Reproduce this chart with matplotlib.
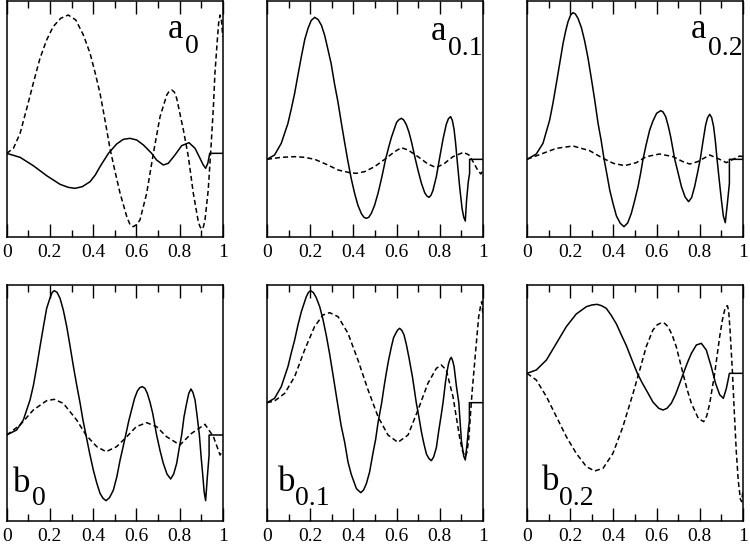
import matplotlib
matplotlib.use("Agg")
import matplotlib.pyplot as plt
from matplotlib import font_manager
from matplotlib.ticker import MultipleLocator

_names = {f.name for f in font_manager.fontManager.ttflist}
SERIF = 'DejaVu Serif'
for _c in ['Liberation Serif', 'Times New Roman', 'Nimbus Roman', 'Nimbus Roman No9 L',
           'TeX Gyre Termes', 'FreeSerif', 'STIXGeneral']:
    if _c in _names:
        SERIF = _c
        break
plt.rcParams['font.family'] = [SERIF, 'DejaVu Serif']

# ---------------- data ----------------
A0_SOLID_X = [0, 0.062, 0.123, 0.185, 0.247, 0.285, 0.316, 0.350, 0.386, 0.410, 0.432, 0.471, 0.509, 0.540, 0.571, 0.602, 0.633, 0.671, 0.694, 0.725, 0.748, 0.779, 0.810, 0.844, 0.872, 0.895, 0.910, 0.921, 0.931, 0.940, 1.0]
A0_SOLID_Y = [0, -0.12, -0.37, -0.67, -0.93, -1.02, -1.05, -1.00, -0.85, -0.65, -0.40, 0, 0.28, 0.42, 0.45, 0.40, 0.25, 0, -0.20, -0.35, -0.30, -0.05, 0.23, 0.32, 0.15, -0.15, -0.35, -0.45, -0.30, 0, 0]
A0_DASH_X = [0, 0.031, 0.062, 0.093, 0.123, 0.154, 0.185, 0.215, 0.250, 0.285, 0.320, 0.355, 0.386, 0.410, 0.432, 0.455, 0.478, 0.500, 0.525, 0.556, 0.571, 0.586, 0.601, 0.617, 0.648, 0.679, 0.710, 0.741, 0.752, 0.764, 0.776, 0.787, 0.818, 0.841, 0.864, 0.887, 0.895, 0.903, 0.911, 0.918, 0.933, 0.946, 0.957, 0.964, 0.974, 0.981, 0.988, 0.995, 1.0]
A0_DASH_Y = [0, 0.15, 0.60, 1.35, 2.10, 2.85, 3.40, 3.80, 4.05, 4.15, 4.00, 3.55, 3.00, 2.40, 1.80, 1.00, 0.15, -0.50, -1.20, -1.90, -2.14, -2.20, -2.14, -2.00, -1.20, 0.00, 1.10, 1.75, 1.86, 1.90, 1.84, 1.65, 0.70, -0.10, -1.20, -2.05, -2.20, -2.28, -2.20, -2.00, -1.10, 0.20, 1.40, 2.40, 3.30, 3.90, 4.15, 3.95, 3.50]

A01_SOLID_X = [0, 0.035, 0.066, 0.097, 0.112, 0.128, 0.143, 0.159, 0.175, 0.190, 0.205, 0.221, 0.237, 0.252, 0.267, 0.282, 0.297, 0.313, 0.328, 0.344, 0.358, 0.373, 0.390, 0.406, 0.421, 0.437, 0.449, 0.460, 0.471, 0.483, 0.498, 0.514, 0.531, 0.549, 0.562, 0.576, 0.600, 0.611, 0.622, 0.633, 0.645, 0.657, 0.668, 0.687, 0.700, 0.715, 0.730, 0.740, 0.750, 0.759, 0.768, 0.784, 0.798, 0.815, 0.830, 0.840, 0.850, 0.858, 0.866, 0.873, 0.880, 0.892, 0.903, 0.911, 0.918, 0.924, 0.932, 0.938, 0.938, 1.0]
A01_SOLID_Y = [0, 0.13, 0.48, 1.08, 1.50, 1.98, 2.52, 3.08, 3.60, 3.93, 4.17, 4.26, 4.19, 4.02, 3.72, 3.30, 2.87, 2.25, 1.74, 1.10, 0.56, 0, -0.58, -1.03, -1.38, -1.63, -1.74, -1.77, -1.74, -1.62, -1.38, -1.02, -0.55, 0, 0.33, 0.66, 1.11, 1.19, 1.23, 1.18, 1.04, 0.82, 0.55, 0, -0.35, -0.72, -1.00, -1.10, -1.14, -1.08, -0.94, -0.52, 0, 0.61, 1.05, 1.22, 1.28, 1.17, 0.90, 0.50, 0, -0.83, -1.47, -1.74, -1.85, -1.22, -0.67, -0.42, 0, 0]
A01_DASH_X = [0, 0.066, 0.128, 0.174, 0.221, 0.282, 0.329, 0.383, 0.414, 0.452, 0.498, 0.545, 0.591, 0.622, 0.653, 0.699, 0.745, 0.784, 0.822, 0.861, 0.910, 0.935, 0.955, 0.975, 0.990, 1.0]
A01_DASH_Y = [0, 0.06, 0.08, 0.06, 0, -0.17, -0.32, -0.40, -0.42, -0.37, -0.22, 0, 0.23, 0.35, 0.28, 0.08, -0.14, -0.25, -0.12, 0.08, 0.21, 0.13, -0.08, -0.32, -0.44, -0.32]

A02_SOLID_X = [0, 0.043, 0.074, 0.105, 0.120, 0.136, 0.152, 0.167, 0.179, 0.190, 0.202, 0.213, 0.224, 0.236, 0.252, 0.267, 0.283, 0.298, 0.313, 0.329, 0.343, 0.357, 0.370, 0.383, 0.398, 0.414, 0.432, 0.449, 0.466, 0.483, 0.498, 0.514, 0.526, 0.537, 0.552, 0.568, 0.583, 0.600, 0.619, 0.630, 0.642, 0.654, 0.665, 0.684, 0.700, 0.715, 0.732, 0.748, 0.762, 0.776, 0.789, 0.802, 0.815, 0.827, 0.836, 0.846, 0.855, 0.864, 0.872, 0.880, 0.890, 0.900, 0.909, 0.918, 0.928, 0.937, 0.937, 1.0]
A02_SOLID_Y = [0, 0.16, 0.48, 1.18, 1.68, 2.28, 2.90, 3.48, 3.85, 4.13, 4.33, 4.40, 4.36, 4.23, 3.95, 3.55, 3.02, 2.42, 1.80, 1.08, 0.58, 0, -0.45, -0.92, -1.32, -1.70, -1.92, -2.02, -1.91, -1.62, -1.25, -0.82, -0.42, 0, 0.45, 0.88, 1.15, 1.38, 1.46, 1.42, 1.28, 1.00, 0.68, 0, -0.42, -0.82, -1.13, -1.27, -1.15, -0.82, -0.42, 0, 0.55, 1.03, 1.25, 1.35, 1.25, 0.98, 0.55, 0, -0.62, -1.22, -1.70, -1.90, -1.30, -0.72, 0, 0]
A02_DASH_X = [0, 0.074, 0.136, 0.213, 0.290, 0.352, 0.400, 0.452, 0.506, 0.552, 0.614, 0.676, 0.722, 0.753, 0.790, 0.846, 0.892, 0.923, 0.954, 0.985, 1.0]
A02_DASH_Y = [0, 0.18, 0.33, 0.40, 0.26, 0.03, -0.12, -0.19, -0.10, 0.08, 0.16, 0.08, -0.07, -0.14, -0.07, 0.13, 0, -0.10, 0, 0.10, 0.08]

B0_SOLID_X = [0, 0.046, 0.077, 0.108, 0.124, 0.139, 0.155, 0.170, 0.185, 0.200, 0.210, 0.220, 0.233, 0.247, 0.262, 0.278, 0.293, 0.309, 0.324, 0.340, 0.353, 0.367, 0.384, 0.401, 0.416, 0.432, 0.446, 0.460, 0.476, 0.494, 0.510, 0.525, 0.538, 0.551, 0.565, 0.580, 0.592, 0.605, 0.616, 0.628, 0.640, 0.651, 0.664, 0.676, 0.694, 0.710, 0.725, 0.742, 0.759, 0.773, 0.787, 0.799, 0.810, 0.821, 0.833, 0.843, 0.853, 0.862, 0.872, 0.882, 0.892, 0.900, 0.907, 0.914, 0.921, 0.929, 0.937, 0.937, 1.0]
B0_SOLID_Y = [0, 0.15, 0.45, 1.05, 1.50, 2.05, 2.68, 3.25, 3.80, 4.10, 4.27, 4.33, 4.28, 4.10, 3.75, 3.25, 2.68, 2.05, 1.50, 0.95, 0.45, 0, -0.55, -1.05, -1.42, -1.75, -1.90, -1.97, -1.88, -1.65, -1.25, -0.75, -0.38, 0, 0.42, 0.80, 1.10, 1.32, 1.42, 1.45, 1.40, 1.25, 0.97, 0.65, 0, -0.47, -0.85, -1.17, -1.32, -1.17, -0.85, -0.38, 0, 0.55, 0.95, 1.25, 1.38, 1.28, 1.05, 0.55, 0, -0.65, -1.15, -1.70, -1.97, -1.25, -0.60, 0, 0]
B0_DASH_X = [0, 0.062, 0.123, 0.185, 0.220, 0.262, 0.324, 0.367, 0.417, 0.460, 0.509, 0.556, 0.600, 0.648, 0.694, 0.740, 0.802, 0.856, 0.918, 0.957, 0.988, 1.0]
B0_DASH_Y = [0, 0.30, 0.75, 1.03, 1.07, 0.95, 0.45, 0, -0.35, -0.50, -0.35, -0.05, 0.25, 0.37, 0.25, -0.05, -0.30, 0.05, 0.32, -0.05, -0.60, -0.45]

B01_SOLID_X = [0, 0.035, 0.066, 0.097, 0.112, 0.128, 0.143, 0.159, 0.182, 0.192, 0.202, 0.215, 0.228, 0.244, 0.259, 0.275, 0.290, 0.306, 0.326, 0.343, 0.360, 0.375, 0.390, 0.414, 0.434, 0.447, 0.460, 0.475, 0.491, 0.503, 0.514, 0.531, 0.542, 0.552, 0.563, 0.576, 0.586, 0.596, 0.605, 0.614, 0.624, 0.634, 0.645, 0.657, 0.674, 0.691, 0.703, 0.715, 0.726, 0.738, 0.750, 0.761, 0.772, 0.784, 0.795, 0.807, 0.815, 0.826, 0.833, 0.841, 0.847, 0.853, 0.859, 0.866, 0.877, 0.888, 0.900, 0.911, 0.918, 0.926, 0.932, 0.937, 0.937, 1.0]
B01_SOLID_Y = [0, 0.13, 0.48, 1.08, 1.48, 1.88, 2.32, 2.73, 3.18, 3.31, 3.36, 3.30, 3.15, 2.88, 2.50, 2.00, 1.46, 0.82, 0, -0.68, -1.20, -1.78, -2.15, -2.58, -2.70, -2.62, -2.43, -2.08, -1.50, -1.10, -0.60, 0, 0.48, 0.88, 1.28, 1.68, 1.95, 2.08, 2.18, 2.23, 2.17, 2.04, 1.75, 1.36, 0.75, 0, -0.42, -0.88, -1.22, -1.54, -1.68, -1.74, -1.62, -1.35, -0.85, -0.35, 0, 0.60, 0.92, 1.18, 1.30, 1.36, 1.27, 1.09, 0.49, 0, -1.14, -1.61, -1.72, -1.25, -0.82, -0.55, 0, 0]
B01_DASH_X = [0, 0.035, 0.082, 0.128, 0.174, 0.220, 0.259, 0.290, 0.329, 0.375, 0.421, 0.468, 0.514, 0.560, 0.606, 0.653, 0.699, 0.745, 0.784, 0.807, 0.830, 0.861, 0.892, 0.905, 0.918, 0.926, 0.934, 0.949, 0.965, 0.980, 0.991, 0.995, 1.0]
B01_DASH_Y = [0, 0.05, 0.28, 0.78, 1.58, 2.28, 2.63, 2.70, 2.58, 2.08, 1.28, 0.38, -0.42, -0.97, -1.19, -0.97, -0.22, 0.58, 1.03, 1.13, 0.98, 0.18, -1.05, -1.45, -1.62, -1.48, -1.08, 0.28, 1.48, 2.58, 2.98, 3.03, 2.58]

B02_SOLID_X = [0, 0.043, 0.090, 0.136, 0.182, 0.228, 0.275, 0.300, 0.324, 0.345, 0.367, 0.390, 0.414, 0.437, 0.460, 0.486, 0.511, 0.532, 0.552, 0.583, 0.610, 0.630, 0.648, 0.668, 0.688, 0.707, 0.724, 0.742, 0.761, 0.784, 0.807, 0.830, 0.853, 0.861, 0.873, 0.892, 0.909, 0.923, 0.931, 0.937, 1.0]
B02_SOLID_Y = [0, 0.10, 0.40, 0.90, 1.40, 1.78, 2.00, 2.05, 2.07, 2.03, 1.95, 1.74, 1.48, 1.15, 0.83, 0.40, 0, -0.27, -0.50, -0.86, -1.05, -1.10, -1.05, -0.90, -0.63, -0.30, 0, 0.31, 0.60, 0.85, 0.90, 0.70, 0.20, 0, -0.30, -0.64, -0.75, -0.45, -0.20, 0, 0]
B02_DASH_X = [0, 0.043, 0.090, 0.136, 0.182, 0.228, 0.275, 0.313, 0.352, 0.398, 0.444, 0.491, 0.522, 0.552, 0.583, 0.602, 0.622, 0.637, 0.653, 0.672, 0.691, 0.722, 0.742, 0.761, 0.793, 0.818, 0.832, 0.846, 0.869, 0.892, 0.904, 0.915, 0.922, 0.928, 0.934, 0.940, 0.951, 0.960, 0.969, 0.978, 0.988, 0.994, 1.0]
B02_DASH_Y = [0, -0.20, -0.70, -1.30, -1.90, -2.40, -2.80, -2.93, -2.85, -2.40, -1.60, -0.60, 0.10, 0.80, 1.30, 1.45, 1.52, 1.50, 1.40, 1.15, 0.80, 0, -0.50, -0.90, -1.35, -1.45, -1.28, -0.90, 0, 1.10, 1.58, 1.90, 2.00, 2.03, 1.85, 1.30, 0.05, -1.20, -2.35, -3.22, -3.78, -3.85, -3.50]

LABEL_MAIN = ["a", "a", "a", "b", "b", "b"]
LABEL_SUB = ["0", "0.1", "0.2", "0", "0.1", "0.2"]
X_TICKS = [0, 0.2, 0.4, 0.6, 0.8, 1.0]
X_TICK_LABELS = ["0", "0.2", "0.4", "0.6", "0.8", "1"]

# ---------------- layout ----------------
W, H = 750, 545
fig = plt.figure(figsize=(W / 100, H / 100), dpi=100)

col_left = [6.7, 267, 527]
row_top = [1, 285]
pw, ph = 216, 236

panels = [
    (A0_SOLID_X, A0_SOLID_Y, A0_DASH_X, A0_DASH_Y, (-2.51, 4.57)),
    (A01_SOLID_X, A01_SOLID_Y, A01_DASH_X, A01_DASH_Y, (-2.33, 4.75)),
    (A02_SOLID_X, A02_SOLID_Y, A02_DASH_X, A02_DASH_Y, (-2.33, 4.75)),
    (B0_SOLID_X, B0_SOLID_Y, B0_DASH_X, B0_DASH_Y, (-2.58, 4.50)),
    (B01_SOLID_X, B01_SOLID_Y, B01_DASH_X, B01_DASH_Y, (-3.55, 3.53)),
    (B02_SOLID_X, B02_SOLID_Y, B02_DASH_X, B02_DASH_Y, (-4.43, 2.65)),
]

# label positions (axes fraction): main letter, subscript
label_pos = [
    ((0.745, 0.842), (0.826, 0.778)),
    ((0.760, 0.835), (0.837, 0.771)),
    ((0.760, 0.842), (0.837, 0.771)),
    ((0.028, 0.124), (0.116, 0.068)),
    ((0.049, 0.128), (0.130, 0.068)),
    ((0.068, 0.131), (0.150, 0.068)),
]

for i, (sx, sy, dx, dy, ylim) in enumerate(panels):
    r, c = divmod(i, 3)
    left = col_left[c] / W
    bottom = (H - (row_top[r] + ph)) / H
    ax = fig.add_axes([left, bottom, pw / W, ph / H])
    ax.plot(dx, dy, color='black', lw=1.1, dashes=(3.3, 2.0))
    ax.plot(sx, sy, color='black', lw=1.1)
    ax.set_xlim(0, 1)
    ax.set_ylim(*ylim)
    ax.set_xticks(X_TICKS)
    ax.set_xticklabels(X_TICK_LABELS)
    ax.xaxis.set_minor_locator(MultipleLocator(0.1))
    ax.set_yticks([])
    ax.tick_params(axis='x', which='both', direction='in', top=True, bottom=True, width=1.0)
    ax.tick_params(axis='x', which='major', length=9.5, labelsize=14, pad=5)
    ax.tick_params(axis='x', which='minor', length=4.8)
    for sp in ax.spines.values():
        sp.set_linewidth(1.1)
    (mx, my), (bx, by) = label_pos[i]
    ax.text(mx, my, LABEL_MAIN[i], transform=ax.transAxes, fontsize=25,
            ha='left', va='baseline')
    ax.text(bx, by, LABEL_SUB[i], transform=ax.transAxes, fontsize=20,
            ha='left', va='baseline')

fig.savefig("out.png", dpi=100)
